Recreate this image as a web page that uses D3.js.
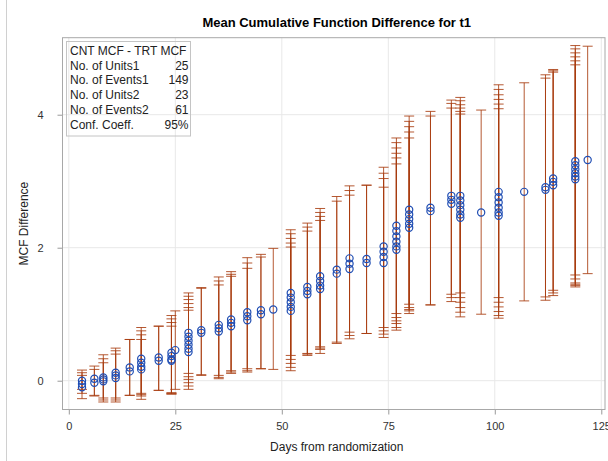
<!DOCTYPE html>
<html>
<head>
<meta charset="utf-8">
<script src="https://cdn.jsdelivr.net/npm/d3@7/dist/d3.min.js"></script>
<style>
  body { margin: 0; background: #fff; }
  text { font-family: "Liberation Sans", Arial, sans-serif; }
</style>
</head>
<body>
<div id="container"></div>
<script>
// event days (one per group of records)
var days = [3.1, 6.0, 8.1, 11.0, 14.3, 17.0, 21.1, 24.1, 25.0, 28.1, 31.1, 35.2, 38.1, 41.9,
  45.1, 48.0, 52.1, 56.0, 59.0, 62.9, 65.9, 69.9, 73.9, 76.9, 79.9, 84.9, 89.8, 91.9,
  96.8, 100.9, 106.9, 111.9, 113.7, 118.9, 121.8];

// MCF difference for each record at that day
var mcfDiff = [
  [0.0, -0.05, -0.1], [0.03, -0.03], [0.05, 0.02, -0.01], [0.12, 0.08, 0.04], [0.2, 0.14],
  [0.33, 0.27, 0.21, 0.17], [0.35, 0.3], [0.42, 0.37, 0.32, 0.30], [0.46],
  [0.72, 0.66, 0.6, 0.54, 0.48, 0.43], [0.76, 0.72], [0.84, 0.79, 0.74], [0.92, 0.87, 0.82],
  [1.03, 0.97, 0.91], [1.06, 1.0], [1.07], [1.32, 1.25, 1.18, 1.11, 1.05], [1.41, 1.35, 1.3],
  [1.57, 1.5, 1.43, 1.38], [1.67, 1.61], [1.84, 1.76, 1.68], [1.83, 1.77],
  [2.02, 1.94, 1.86, 1.77], [2.33, 2.25, 2.17, 2.09, 2.02, 1.97], [2.57, 2.5, 2.43, 2.36, 2.3],
  [2.6, 2.55], [2.78, 2.72, 2.66], [2.78, 2.71, 2.64, 2.57, 2.5, 2.45], [2.53],
  [2.84, 2.76, 2.68, 2.6, 2.53, 2.48], [2.84], [2.91, 2.87], [3.04, 2.99, 2.94],
  [3.3, 3.24, 3.18, 3.12, 3.07, 3.03], [3.32]
];

// lower confidence limits
var lowerCL = [
  [-0.13, -0.19, -0.27], [-0.22, -0.23], [-0.26, -0.29, -0.32], [-0.26, -0.29, -0.32], [-0.22, -0.22],
  [-0.19, -0.21, -0.23, -0.28], [-0.145, -0.145], [-0.18, -0.19, -0.2, -0.2], [-0.13],
  [0.11, 0.06, 0.02, -0.03, -0.08, -0.13], [0.09, 0.08], [0.08, 0.05, 0.03], [0.15, 0.13, 0.11],
  [0.18, 0.15, 0.13], [0.18, 0.18], [0.17], [0.38, 0.32, 0.26, 0.2, 0.15], [0.41, 0.40, 0.38],
  [0.51, 0.49, 0.47, 0.41], [0.58, 0.56], [0.73, 0.68, 0.63], [0.71, 0.71],
  [0.80, 0.75, 0.70, 0.65], [1.01, 0.95, 0.9, 0.86, 0.8, 0.76], [1.15, 1.10, 1.07, 1.05, 1.01],
  [1.14, 1.14], [1.30, 1.25, 1.19], [1.32, 1.25, 1.18, 1.1, 1.03, 0.96], [1.0],
  [1.25, 1.18, 1.11, 1.04, 0.98, 0.94], [1.20], [1.26, 1.21], [1.36, 1.32, 1.28],
  [1.59, 1.53, 1.47, 1.45, 1.43, 1.41], [1.61]
];

// upper confidence limits
var upperCL = [
  [0.16, 0.12, 0.08], [0.22, 0.17], [0.39, 0.33, 0.27], [0.49, 0.45, 0.40], [0.62, 0.62],
  [0.80, 0.75, 0.69, 0.62], [0.82, 0.82], [0.98, 0.93, 0.875, 0.82], [1.05],
  [1.32, 1.27, 1.22, 1.16, 1.1, 1.06], [1.40, 1.39], [1.56, 1.50, 1.44], [1.64, 1.60, 1.57],
  [1.85, 1.77, 1.69], [1.90, 1.86], [1.99], [2.27, 2.21, 2.14, 2.07, 2.01], [2.37, 2.31, 2.25],
  [2.59, 2.53, 2.47, 2.41], [2.77, 2.70], [2.93, 2.86, 2.79], [2.94, 2.94],
  [3.21, 3.12, 3.04, 2.91], [3.65, 3.58, 3.5, 3.42, 3.35, 3.26], [3.98, 3.9, 3.82, 3.74, 3.65],
  [4.05, 3.98], [4.22, 4.17, 4.1], [4.26, 4.21, 4.15, 4.1, 4.05, 4.01], [4.07],
  [4.45, 4.38, 4.3, 4.23, 4.16, 4.09], [4.48], [4.6, 4.55], [4.68, 4.66, 4.64],
  [5.04, 4.99, 4.93, 4.87, 4.81, 4.75], [5.03]
];

var xTicks = [0, 25, 50, 75, 100, 125];
var yTicks = [0, 2, 4];

var legendTitle = "CNT MCF - TRT MCF";
var legendLabels = ["No. of Units1", "No. of Events1", "No. of Units2", "No. of Events2", "Conf. Coeff."];
var legendValues = ["25", "149", "23", "61", "95%"];

var w = 608,
  h = 461;

var svg = d3.select("#container").append("svg")
  .attr("width", w)
  .attr("height", h);

var pLeft = 62.5, pRight = 605, pTop = 37.7, pBottom = 409.5;

var x = d3.scaleLinear()
  .domain([-1.48, 125.87])
  .range([pLeft, pRight]);

var y = d3.scaleLinear()
  .domain([-0.433, 5.158])
  .range([pBottom, pTop]);

// outer border (left edge only visible)
svg.append("line")
  .attr("x1", 6.5).attr("x2", 6.5)
  .attr("y1", 0).attr("y2", h)
  .attr("stroke", "#d0d0d0");

// grid
svg.append("g").selectAll("line")
  .data(xTicks)
  .enter().append("line")
  .attr("x1", d => x(d)).attr("x2", d => x(d))
  .attr("y1", pTop).attr("y2", pBottom)
  .attr("stroke", "#e8e8e8");

svg.append("g").selectAll("line")
  .data(yTicks)
  .enter().append("line")
  .attr("x1", pLeft).attr("x2", pRight)
  .attr("y1", d => y(d)).attr("y2", d => y(d))
  .attr("stroke", "#e8e8e8");

// axes
var xAxis = svg.append("g")
  .attr("transform", "translate(0," + pBottom + ")")
  .call(d3.axisBottom(x).tickValues(xTicks).tickSize(5).tickPadding(7.5).tickFormat(d3.format("d")));
xAxis.select(".domain").remove();

var yAxis = svg.append("g")
  .attr("transform", "translate(" + pLeft + ",0)")
  .call(d3.axisLeft(y).tickValues(yTicks).tickSize(5).tickPadding(14).tickFormat(d3.format("d")));
yAxis.select(".domain").remove();

svg.selectAll(".tick line").attr("stroke", "#9a9a9a");
svg.selectAll(".tick text")
  .attr("fill", "#333")
  .style("font-size", "11px")
  .style("font-family", "'Liberation Sans', Arial, sans-serif");

// frame
svg.append("rect")
  .attr("x", pLeft).attr("y", pTop)
  .attr("width", pRight - pLeft).attr("height", pBottom - pTop)
  .attr("fill", "none")
  .attr("stroke", "#a8a8a8");

// records
var records = [];
days.forEach(function (d, i) {
  mcfDiff[i].forEach(function (m, j) {
    records.push({ day: d, mcf: m, lo: lowerCL[i][j], hi: upperCL[i][j] });
  });
});

var barColor = "#a83c0f";
var bars = svg.append("g").attr("class", "bars");

bars.selectAll("line.stem")
  .data(records)
  .enter().append("line")
  .attr("class", "stem")
  .attr("x1", d => x(d.day)).attr("x2", d => x(d.day))
  .attr("y1", d => y(d.lo)).attr("y2", d => y(d.hi))
  .attr("stroke", barColor)
  .attr("stroke-opacity", 0.85);

["lo", "hi"].forEach(function (k) {
  bars.selectAll("line.cap-" + k)
    .data(records)
    .enter().append("line")
    .attr("class", "cap-" + k)
    .attr("x1", d => x(d.day) - 5).attr("x2", d => x(d.day) + 5)
    .attr("y1", d => y(d[k])).attr("y2", d => y(d[k]))
    .attr("stroke", barColor)
    .attr("stroke-opacity", 0.85);
});

svg.append("g").selectAll("circle")
  .data(records)
  .enter().append("circle")
  .attr("cx", d => x(d.day))
  .attr("cy", d => y(d.mcf))
  .attr("r", 3.6)
  .attr("fill", "none")
  .attr("stroke", "#1f4db3")
  .attr("stroke-width", 1.2);

// legend inset
var lg = svg.append("g");
lg.append("rect")
  .attr("x", 66.5).attr("y", 41.5)
  .attr("width", 124).attr("height", 94.5)
  .attr("fill", "none")
  .attr("stroke", "#c4c4c4");

lg.append("text")
  .attr("x", 70).attr("y", 55)
  .attr("fill", "#222")
  .style("font-size", "12px")
  .text(legendTitle);

lg.selectAll("text.lab")
  .data(legendLabels)
  .enter().append("text")
  .attr("class", "lab")
  .attr("x", 70)
  .attr("y", (d, i) => 69.5 + i * 14.8)
  .attr("fill", "#222")
  .style("font-size", "12px")
  .text(d => d);

lg.selectAll("text.val")
  .data(legendValues)
  .enter().append("text")
  .attr("class", "val")
  .attr("x", 188.5)
  .attr("y", (d, i) => 69.5 + i * 14.8)
  .attr("text-anchor", "end")
  .attr("fill", "#222")
  .style("font-size", "12px")
  .text(d => d);

// titles
svg.append("text")
  .attr("x", (pLeft + pRight) / 2 + 3)
  .attr("y", 27)
  .attr("text-anchor", "middle")
  .attr("fill", "#000")
  .style("font-size", "13px")
  .style("font-weight", "bold")
  .text("Mean Cumulative Function Difference for t1");

svg.append("text")
  .attr("x", (pLeft + pRight) / 2 + 3)
  .attr("y", 451)
  .attr("text-anchor", "middle")
  .attr("fill", "#222")
  .style("font-size", "12px")
  .text("Days from randomization");

svg.append("text")
  .attr("transform", "translate(28," + ((pTop + pBottom) / 2) + ") rotate(-90)")
  .attr("text-anchor", "middle")
  .attr("fill", "#222")
  .style("font-size", "12px")
  .text("MCF Difference");
</script>
</body>
</html>
